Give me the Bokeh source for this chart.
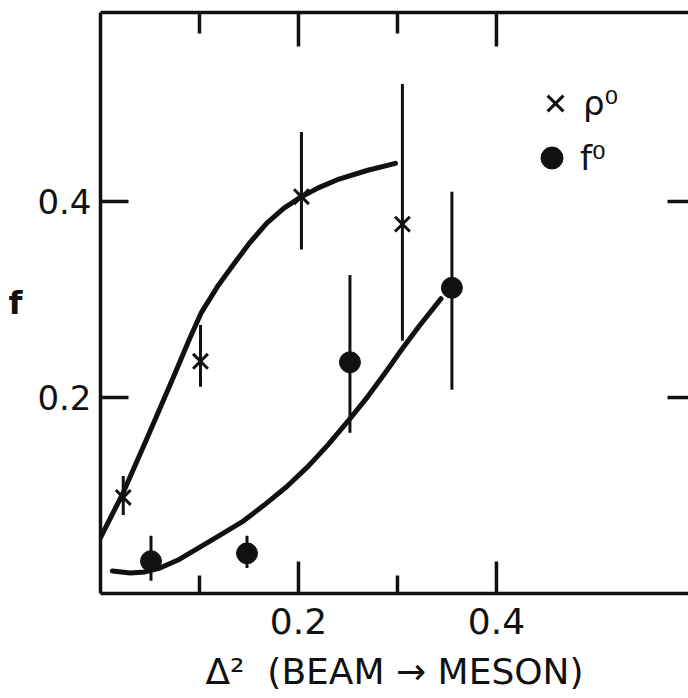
from bokeh.plotting import figure
from bokeh.models import Range1d, LinearAxis, FixedTicker, Legend, LegendItem
from bokeh.embed import file_html
from bokeh.resources import INLINE

# ---- data ----
rho_x = [0.023, 0.101, 0.203, 0.305]
rho_y = [0.098, 0.237, 0.405, 0.377]
rho_lo = [0.080, 0.211, 0.351, 0.258]
rho_hi = [0.120, 0.274, 0.471, 0.520]

f_x = [0.051, 0.148, 0.252, 0.355]
f_y = [0.033, 0.041, 0.236, 0.312]
f_lo = [0.013, 0.026, 0.164, 0.208]
f_hi = [0.059, 0.059, 0.325, 0.410]

rho_fit_x = [0.000, 0.023, 0.049, 0.075, 0.090, 0.102, 0.118, 0.1345, 0.150,
             0.168, 0.185, 0.203, 0.220, 0.241, 0.270, 0.298]
rho_fit_y = [0.057, 0.103, 0.163, 0.224, 0.260, 0.287, 0.313, 0.336, 0.357,
             0.378, 0.393, 0.405, 0.414, 0.423, 0.432, 0.439]

f_fit_x = [0.012, 0.030, 0.045, 0.060, 0.080, 0.100, 0.120, 0.143, 0.165,
           0.188, 0.210, 0.230, 0.250, 0.270, 0.2875, 0.305, 0.322, 0.344]
f_fit_y = [0.023, 0.021, 0.022, 0.026, 0.035, 0.047, 0.059, 0.073, 0.090,
           0.109, 0.130, 0.152, 0.176, 0.201, 0.225, 0.250, 0.273, 0.301]

x_ticks = [0.2, 0.4]
x_minor = [0.1, 0.3]
y_ticks = [0.2, 0.4]

rho_label = "ρ⁰"
f_label = "f⁰"
x_title = "Δ²\u00a0\u00a0(BEAM\u00a0→\u00a0MESON)"
y_title = "f"

INK = "#111111"
FONT = "DejaVu Sans"

XMAX, YMAX = 0.594, 0.593
FRAME_W, FRAME_H = 588, 581
PX_X = XMAX / FRAME_W   # data units per screen pixel
PX_Y = YMAX / FRAME_H

p = figure(width=688, height=698, output_backend="svg", toolbar_location=None,
           x_range=Range1d(0, XMAX), y_range=Range1d(0, YMAX),
           x_axis_location=None, y_axis_location=None,
           min_border_left=100, min_border_right=0, min_border_top=12,
           min_border_bottom=105,
           background_fill_color="white", border_fill_color="white",
           outline_line_color=None)
p.grid.visible = False


def style_axis(ax):
    ax.axis_line_color = INK
    ax.axis_line_width = 3.5
    ax.major_tick_line_color = None
    ax.minor_tick_line_color = None
    ax.major_tick_in = 0
    ax.major_tick_out = 0
    ax.minor_tick_in = 0
    ax.minor_tick_out = 0
    ax.major_label_text_color = INK
    ax.major_label_text_font = FONT
    ax.axis_label_text_color = INK
    ax.axis_label_text_font = FONT
    ax.axis_label_text_font_style = "normal"


xb = LinearAxis(ticker=FixedTicker(ticks=x_ticks, minor_ticks=x_minor), axis_label=x_title)
style_axis(xb)
xb.major_label_text_font_size = "36px"
xb.major_label_standoff = 14
xb.axis_label_text_font_size = "36px"
xb.axis_label_standoff = 14
p.add_layout(xb, "below")

xt = LinearAxis(ticker=FixedTicker(ticks=x_ticks, minor_ticks=x_minor))
style_axis(xt)
xt.major_label_overrides = {t: "" for t in x_ticks}
xt.major_label_text_font_size = "0px"
xt.major_label_standoff = 0
p.add_layout(xt, "above")

yl = LinearAxis(ticker=FixedTicker(ticks=y_ticks, minor_ticks=[]), axis_label=y_title)
style_axis(yl)
yl.major_label_text_font_size = "34px"
yl.major_label_standoff = 9
yl.axis_label_orientation = "horizontal"
yl.axis_label_text_font_size = "32px"
yl.axis_label_text_font_style = "bold"
yl.axis_label_standoff = 12
p.add_layout(yl, "left")

# inward tick marks (bottom, top, left, right)
tick_kw = dict(line_color=INK, line_width=3.5, line_cap="butt")
p.segment(x0=x_ticks, y0=[0] * len(x_ticks), x1=x_ticks, y1=[32 * PX_Y] * len(x_ticks), **tick_kw)
p.segment(x0=x_minor, y0=[0] * len(x_minor), x1=x_minor, y1=[18 * PX_Y] * len(x_minor), **tick_kw)
p.segment(x0=x_ticks, y0=[YMAX] * len(x_ticks), x1=x_ticks, y1=[YMAX - 34 * PX_Y] * len(x_ticks), **tick_kw)
p.segment(x0=x_minor, y0=[YMAX] * len(x_minor), x1=x_minor, y1=[YMAX - 21 * PX_Y] * len(x_minor), **tick_kw)
p.segment(x0=[0] * len(y_ticks), y0=y_ticks, x1=[28 * PX_X] * len(y_ticks), y1=y_ticks, **tick_kw)
p.segment(x0=[XMAX] * len(y_ticks), y0=y_ticks, x1=[XMAX - 21 * PX_X] * len(y_ticks), y1=y_ticks, **tick_kw)

# error bars
p.segment(x0=rho_x, y0=rho_lo, x1=rho_x, y1=rho_hi, line_color=INK, line_width=3)
p.segment(x0=f_x, y0=f_lo, x1=f_x, y1=f_hi, line_color=INK, line_width=3)

# fitted curves
p.line(rho_fit_x, rho_fit_y, line_color=INK, line_width=5, line_cap="round", line_join="round")
p.line(f_fit_x, f_fit_y, line_color=INK, line_width=5, line_cap="round", line_join="round")

# points
r_rho = p.scatter(rho_x, rho_y, marker="x", size=21, line_width=3, line_color=INK)
r_f = p.scatter(f_x, f_y, marker="circle", size=21, fill_color=INK, line_color=INK)


def make_legend(item_label, renderer, loc, gw, gh, standoff):
    lg = Legend(items=[LegendItem(label=item_label, renderers=[renderer])],
                location=loc, glyph_width=gw, glyph_height=gh,
                label_standoff=standoff, padding=0, margin=0, spacing=0,
                border_line_color=None, background_fill_alpha=0,
                label_text_font=FONT, label_text_font_size="34px",
                label_text_color=INK)
    p.add_layout(lg, "center")


make_legend(rho_label, r_rho, (427, 460), 56, 60, 0)
make_legend(f_label, r_f, (424, 408), 55, 55, 1)

open("out.html", "w").write(file_html(p, INLINE))
